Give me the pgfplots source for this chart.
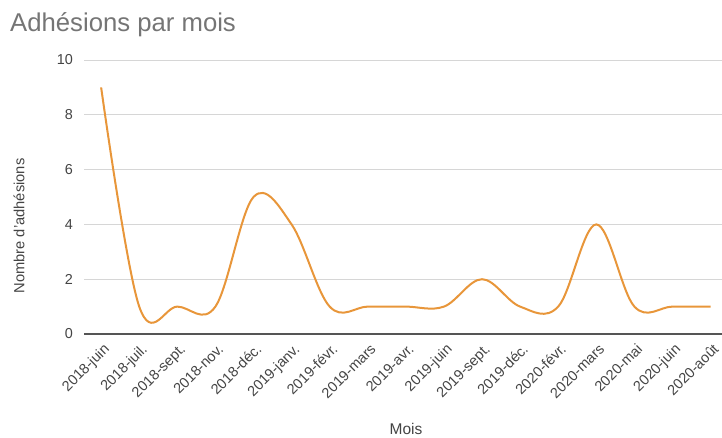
\documentclass[border=0pt]{standalone}
\usepackage{fontspec}
\setmainfont{Liberation Sans}
\usepackage{pgfplots}
\pgfplotsset{compat=1.18}
\definecolor{lineor}{HTML}{E8963A}
\definecolor{gridc}{HTML}{D6D6D6}
\definecolor{txt}{HTML}{444444}
\definecolor{titlec}{HTML}{757575}
\definecolor{zeroc}{HTML}{555555}
\begin{document}
\begin{tikzpicture}[x=1pt,y=1pt]
\path[use as bounding box] (0,0) rectangle (722,437);
\node[anchor=base west, inner sep=0pt, text=titlec, font=\fontsize{25.7}{30}\selectfont] at (10,405) {Adhésions par mois};
\node[rotate=90, inner sep=0pt, text=txt, font=\fontsize{14.7}{18}\selectfont] at (19,211) {Nombre d'adhésions};
\node[anchor=base, inner sep=0pt, text=txt, font=\fontsize{15.5}{18}\selectfont] at (406,3) {Mois};
\begin{axis}[
  at={(84pt,103pt)}, anchor=south west,
  scale only axis, width=638pt, height=274pt,
  xmin=-0.45, xmax=16.3, ymin=0, ymax=10,
  ytick={0,2,...,10},
  xtick={0,...,16},
  xticklabels={2018-juin,2018-juil.,2018-sept.,2018-nov.,2018-déc.,2019-janv.,2019-févr.,2019-mars,2019-avr.,2019-juin,2019-sept.,2019-déc.,2020-févr.,2020-mars,2020-mai,2020-juin,2020-août},
  axis line style={draw=none},
  major tick style={draw=none},
  ymajorgrids, grid style={gridc, line width=1pt},
  /pgf/number format/assume math mode=true,
  yticklabel style={text=txt, font=\fontsize{14.4}{17}\selectfont, anchor=east, inner sep=0pt, xshift=-11pt},
  xticklabel style={text=txt, font=\fontsize{14.5}{17}\selectfont, xshift=9pt, yshift=-16pt, rotate=45, anchor=base east, inner sep=0pt},
  clip=false,
]
\draw[zeroc, line width=1.5pt] (axis cs:-0.45,0) -- (axis cs:16.3,0);
\addplot[lineor, line width=2pt, smooth, tension=0.6] coordinates {
(0,9) (1,1) (2,1) (3,1) (4,5) (5,4) (6,1) (7,1) (8,1) (9,1) (10,2) (11,1) (12,1) (13,4) (14,1) (15,1) (16,1)
};
\end{axis}
\end{tikzpicture}
\end{document}
